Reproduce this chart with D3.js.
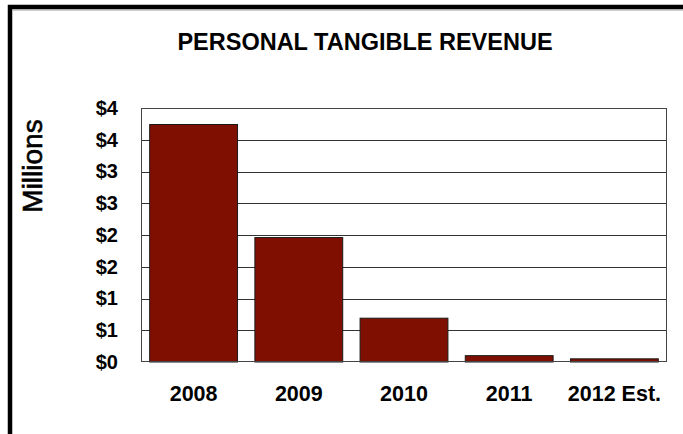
<!DOCTYPE html>
<html>
<head>
<meta charset="utf-8">
<script src="https://cdn.jsdelivr.net/npm/d3@7"></script>
<style>
  html, body { margin: 0; padding: 0; background: #fff; }
  svg { display: block; font-family: Arial, "Liberation Sans", sans-serif; }
</style>
</head>
<body>
<svg id="chart" width="683" height="434"></svg>
<script>
const categories = ["2008", "2009", "2010", "2011", "2012 Est."];
const revenue = [3.74, 1.96, 0.69, 0.10, 0.05];
const yTicks = [0, 0.5, 1, 1.5, 2, 2.5, 3, 3.5, 4];
const yTickLabels = ["$0", "$1", "$1", "$2", "$2", "$3", "$3", "$4", "$4"];
const title = "PERSONAL TANGIBLE REVENUE";
const yTitle = "Millions";

const svg = d3.select("#chart");
const W = 683, H = 434;
const plot = { left: 141, top: 108, right: 667, bottom: 362 };

// outer frame (extends beyond the visible area on right and bottom)
svg.append("rect").attr("x", 10).attr("y", 7).attr("width", 720).attr("height", 480)
  .attr("fill", "#fff").attr("stroke", "#000").attr("stroke-width", 4.5);
svg.append("line").attr("x1", 12).attr("x2", W).attr("y1", 10).attr("y2", 10)
  .attr("stroke", "#9a9a9a").attr("stroke-width", 1);

const x = d3.scaleBand().domain(categories).range([plot.left, plot.right])
  .paddingInner(0.165).paddingOuter(0.0825);
const y = d3.scaleLinear().domain([0, 4]).range([plot.bottom, plot.top]);

// plot area background
svg.append("rect").attr("x", plot.left).attr("y", plot.top)
  .attr("width", plot.right - plot.left).attr("height", plot.bottom - plot.top)
  .attr("fill", "#fff");

// gridlines
svg.append("g").selectAll("line").data(yTicks.slice(1, -1)).join("line")
  .attr("x1", plot.left).attr("x2", plot.right)
  .attr("y1", d => Math.round(y(d)) + 0.5).attr("y2", d => Math.round(y(d)) + 0.5)
  .attr("stroke", "#333").attr("stroke-width", 1);

// bars
svg.append("g").selectAll("rect").data(revenue).join("rect")
  .attr("x", (d, i) => x(categories[i]))
  .attr("width", x.bandwidth())
  .attr("y", d => y(d))
  .attr("height", d => y(0) - y(d))
  .attr("fill", "#7f0f00")
  .attr("stroke", "#1a1a1a").attr("stroke-width", 1);

// plot border
svg.append("rect").attr("x", plot.left + 0.5).attr("y", plot.top + 0.5)
  .attr("width", plot.right - plot.left - 1).attr("height", plot.bottom - plot.top - 1)
  .attr("fill", "none").attr("stroke", "#444").attr("stroke-width", 1);

// y axis
const yAxis = d3.axisLeft(y).tickValues(yTicks)
  .tickFormat((d, i) => yTickLabels[i]).tickSize(0).tickPadding(23);
const gy = svg.append("g").attr("transform", `translate(${plot.left},0)`).call(yAxis);
gy.select(".domain").remove();
gy.selectAll("text").attr("font-size", 20).attr("font-weight", "bold")
  .attr("fill", "#000").attr("font-family", "Arial, 'Liberation Sans', sans-serif");

// x axis
const xAxis = d3.axisBottom(x).tickSize(0).tickPadding(24);
const gx = svg.append("g").attr("transform", `translate(0,${plot.bottom})`).call(xAxis);
gx.select(".domain").remove();
gx.selectAll("text").attr("font-size", 21.5).attr("font-weight", "bold")
  .attr("fill", "#000").attr("font-family", "Arial, 'Liberation Sans', sans-serif");

// title
svg.append("text").attr("x", 365).attr("y", 50).attr("text-anchor", "middle")
  .attr("font-size", 23.5).attr("font-weight", "bold").attr("fill", "#000")
  .text(title);

// y title
svg.append("text").attr("transform", "translate(42,166) rotate(-90)")
  .attr("text-anchor", "middle").attr("font-size", 28).attr("fill", "#000")
  .attr("stroke", "#000").attr("stroke-width", 0.6)
  .text(yTitle);
</script>
</body>
</html>
